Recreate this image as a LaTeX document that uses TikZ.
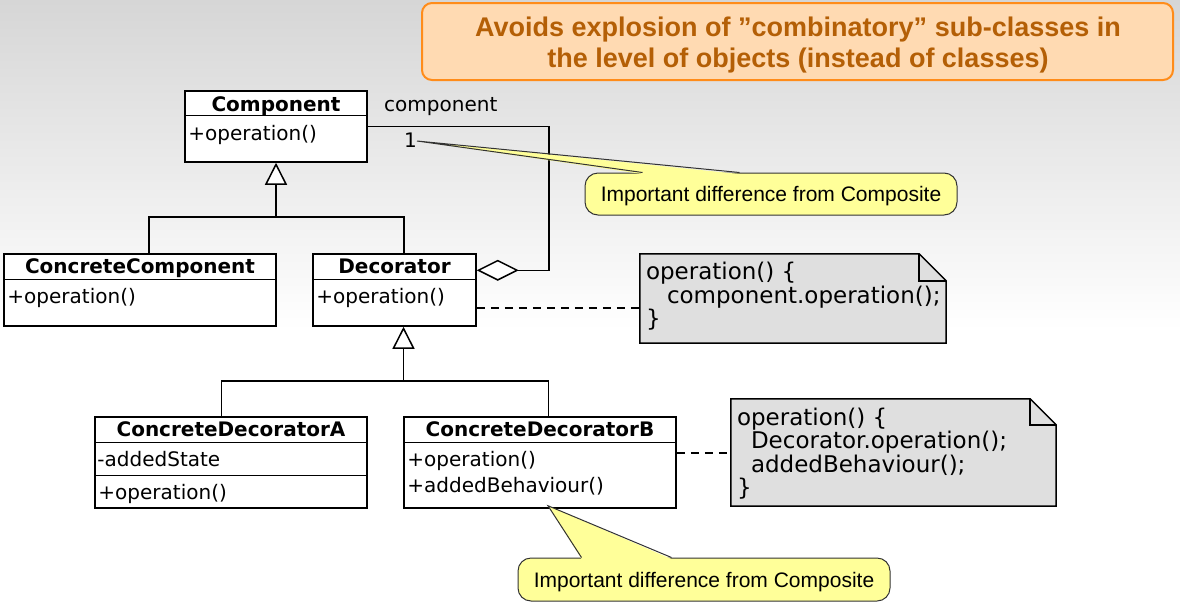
\documentclass[tikz,border=0pt]{standalone}
\usepackage{fontspec}
\setmainfont{DejaVu Sans}
\newfontfamily\calfont{Liberation Sans}
\usetikzlibrary{arrows.meta,calc}
\definecolor{hdrfill}{RGB}{255,218,178}
\definecolor{hdrdraw}{RGB}{255,140,26}
\definecolor{hdrtext}{RGB}{180,95,6}
\definecolor{calfill}{RGB}{255,255,153}
\definecolor{notefill}{RGB}{223,223,223}
\definecolor{bgtop}{RGB}{214,214,214}
\newcommand\umlfont{\fontsize{20}{23}\selectfont}
\newcommand\notefont{\fontsize{23}{23.5}\selectfont}
\tikzset{
  umlbox/.style={draw=black, fill=white, line width=1.5pt, inner sep=0pt, rectangle},
  umltitle/.style={font=\umlfont\bfseries, anchor=base, inner sep=0pt},
  umltext/.style={font=\umlfont, anchor=base west, inner sep=0pt},
  conn/.style={line width=1.5pt, draw=black},
  sepline/.style={line width=1.5pt, draw=black},
  inh/.style={conn, -{Triangle[length=22pt, width=22pt, fill=white]}},
  agg/.style={conn, {Diamond[length=42pt, width=21pt, fill=white]}-},
  dashconn/.style={conn, dash pattern=on 8pt off 6pt},
  noteanchor/.style={rectangle, inner sep=0pt, draw=none},
  notestyle/.style={fill=notefill, draw=black, line width=1.5pt, line join=miter},
  notetext/.style={font=\notefont, anchor=base west, inner sep=0pt},
  hdr/.style={rectangle, rounded corners=10pt, fill=hdrfill, draw=hdrdraw, line width=2pt},
  hdrtxt/.style={font=\calfont\fontsize{27}{31}\selectfont\bfseries, text=hdrtext, anchor=base, inner sep=0pt},
  calbox/.style={rectangle, rounded corners=13pt, fill=calfill, draw=black!80, line width=1pt},
  caltxt/.style={font=\calfont\fontsize{21}{24}\selectfont, inner sep=0pt},
  lbl/.style={font=\umlfont, anchor=base west, inner sep=0pt},
}
\begin{document}
\begin{tikzpicture}[x=1pt,y=-1pt]
\useasboundingbox (0,0) rectangle (1180,603);
% background
\fill[white] (0,0) rectangle (1180,603);
\fill[top color=bgtop, bottom color=white] (0,0) rectangle (1180,330);

% header
\node[hdr, minimum width=751pt, minimum height=77pt] (hdr) at (797.5,41.5) {};
\node[hdrtxt] (h1) at (798,36) {Avoids explosion of ”combinatory” sub-classes in};
\node[hdrtxt] (h2) at (798,67) {the level of objects (instead of classes)};

% classes
\node[umlbox, minimum width=182pt, minimum height=71pt] (comp) at (276,126.5) {};
\draw[sepline] ($(comp.north west)+(0,25)$) -- ($(comp.north east)+(0,25)$);
\node[umltitle] (compT) at ($(comp.north)+(0,21)$) {Component};
\node[umltext] (compA) at ($(comp.north west)+(4,50)$) {+operation()};

\node[umlbox, minimum width=272pt, minimum height=72pt] (ccomp) at (140,290) {};
\draw[sepline] ($(ccomp.north west)+(0,26)$) -- ($(ccomp.north east)+(0,26)$);
\node[umltitle] (ccompT) at ($(ccomp.north)+(0,20.5)$) {ConcreteComponent};
\node[umltext] (ccompA) at ($(ccomp.north west)+(4,50)$) {+operation()};

\node[umlbox, minimum width=163pt, minimum height=72pt] (dec) at (394.5,290) {};
\draw[sepline] ($(dec.north west)+(0,26)$) -- ($(dec.north east)+(0,26)$);
\node[umltitle] (decT) at ($(dec.north)+(0,20.5)$) {Decorator};
\node[umltext] (decA) at ($(dec.north west)+(4,50)$) {+operation()};

\node[umlbox, minimum width=272pt, minimum height=91pt] (cda) at (231,462.5) {};
\draw[sepline] ($(cda.north west)+(0,26)$) -- ($(cda.north east)+(0,26)$);
\draw[sepline] ($(cda.north west)+(0,59)$) -- ($(cda.north east)+(0,59)$);
\node[umltitle] (cdaT) at ($(cda.north)+(0,20.5)$) {ConcreteDecoratorA};
\node[umltext] (cdaA) at ($(cda.north west)+(3,50)$) {-addedState};
\node[umltext] (cdaO) at ($(cda.north west)+(4,83)$) {+operation()};

\node[umlbox, minimum width=272pt, minimum height=91pt] (cdb) at (540,462.5) {};
\draw[sepline] ($(cdb.north west)+(0,26)$) -- ($(cdb.north east)+(0,26)$);
\node[umltitle] (cdbT) at ($(cdb.north)+(0,20.5)$) {ConcreteDecoratorB};
\node[umltext] (cdbO) at ($(cdb.north west)+(4,50)$) {+operation()};
\node[umltext] (cdbB) at ($(cdb.north west)+(4,76)$) {+addedBehaviour()};

% inheritance
\coordinate (j1) at ($(comp.south)+(0,54)$);
\draw[conn] ($(ccomp.north)+(9,0)$) |- (j1) -| ($(dec.north)+(9.5,0)$);
\draw[inh] (j1) -- (comp.south);
\coordinate (j2) at ($(dec.south)+(9,54)$);
\draw[conn] ($(cda.north)+(-9.5,0)$) |- (j2) -| ($(cdb.north)+(8.5,0)$);
\draw[inh] (j2) -- ($(dec.south)+(9,0)$);

% aggregation
\coordinate (da) at ($(dec.north east)+(0,17)$);
\coordinate (ca) at ($(comp.north east)+(0,36)$);
\draw[agg] (da) -- ++(72,0) |- (ca);
\node[lbl] (lblcomp) at (384,111) {component};
\node[lbl] (lblone) at (404,147) {1};

% notes
\node[noteanchor, minimum width=306pt, minimum height=89pt] (note1) at (793,298.5) {};
\filldraw[notestyle] (note1.north west) -- ($(note1.north east)+(-27,0)$) -- ($(note1.north east)+(0,27)$) -- (note1.south east) -- (note1.south west) -- cycle;
\draw[notestyle, fill=none] ($(note1.north east)+(-27,0)$) -- ++(0,27) -- ++(27,0);
\node[notetext] (n1a) at ($(note1.north west)+(6,26)$) {operation() \{};
\node[notetext] (n1b) at ($(note1.north west)+(27,49.5)$) {component.operation();};
\node[notetext] (n1c) at ($(note1.north west)+(6,73)$) {\}};

\node[noteanchor, minimum width=325pt, minimum height=107pt] (note2) at (893.5,452.5) {};
\filldraw[notestyle] (note2.north west) -- ($(note2.north east)+(-26,0)$) -- ($(note2.north east)+(0,26)$) -- (note2.south east) -- (note2.south west) -- cycle;
\draw[notestyle, fill=none] ($(note2.north east)+(-26,0)$) -- ++(0,26) -- ++(26,0);
\node[notetext] (n2a) at ($(note2.north west)+(6,26.5)$) {operation() \{};
\node[notetext] (n2b) at ($(note2.north west)+(20,50)$) {Decorator.operation();};
\node[notetext] (n2c) at ($(note2.north west)+(20,73.5)$) {addedBehaviour();};
\node[notetext] (n2d) at ($(note2.north west)+(6,97)$) {\}};

% dashed note links
\coordinate (d1) at ($(dec.east)+(0,18)$);
\draw[dashconn] (d1) -- (d1 -| note1.west);
\coordinate (d2) at ($(cdb.east)+(0,-9.5)$);
\draw[dashconn] (d2) -- (d2 -| note2.west);

% callouts
\node[calbox, minimum width=372pt, minimum height=42pt] (cal1) at (771,194) {};
\coordinate (tip1) at (417,141);
\fill[calfill] (tip1) -- ($(cal1.north west)+(155,1.5)$) -- ($(cal1.north west)+(58,1.5)$) -- cycle;
\draw[black!80, line width=1pt] ($(cal1.north west)+(155,0)$) -- (tip1) -- ($(cal1.north west)+(58,0)$);
\node[caltxt] (cal1t) at ($(cal1.center)+(0,2.5)$) {Important difference from Composite};

\node[calbox, minimum width=372pt, minimum height=43pt] (cal2) at (704,579.5) {};
\coordinate (tip2) at ($(cdb.south)+(8,-3)$);
\fill[calfill] (tip2) -- ($(cal2.north west)+(154,1.5)$) -- ($(cal2.north west)+(64,1.5)$) -- cycle;
\draw[black!80, line width=1pt] ($(cal2.north west)+(154,0)$) -- (tip2) -- ($(cal2.north west)+(64,0)$);
\node[caltxt] (cal2t) at ($(cal2.center)+(0,2.5)$) {Important difference from Composite};
\end{tikzpicture}
\end{document}
